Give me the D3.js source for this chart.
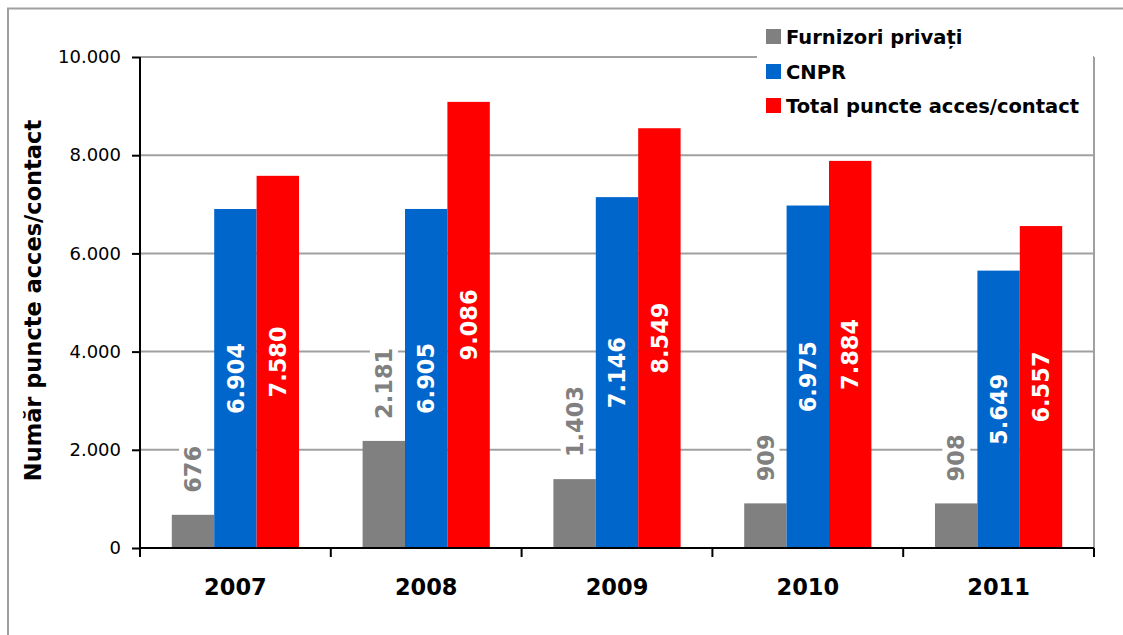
<!DOCTYPE html>
<html><head><meta charset="utf-8">
<script src="https://cdn.jsdelivr.net/npm/d3@7"></script>
<style>body{margin:0;background:#fff}svg{display:block}</style>
</head><body>
<script>
const years = ["2007","2008","2009","2010","2011"];
const seriesNames = ["Furnizori privați","CNPR","Total puncte acces/contact"];
const furnizori = [676,2181,1403,909,908];
const cnpr = [6904,6905,7146,6975,5649];
const total = [7580,9086,8549,7884,6557];
const yTicks = [0,2000,4000,6000,8000,10000];
const colors = ["#808080","#0066cc","#ff0000"];
const yTitle = "Număr puncte acces/contact";

const W=1123,H=635;
const svg=d3.select("body").append("svg").attr("width",W).attr("height",H);
const FONT="'DejaVu Sans', Verdana, sans-serif";
const fmt = v => d3.format(",")(v).replace(/,/g,".");

// outer border
svg.append("rect").attr("x",8).attr("y",8.5).attr("width",W).attr("height",H+10)
  .attr("fill","none").attr("stroke","#a0a0a0").attr("stroke-width",2);

const L=140,R=1094,T=57,B=548;
const x=d3.scaleBand().domain(years).range([L,R]);
const y=d3.scaleLinear().domain([0,10000]).range([B,T]);
const inner=d3.scaleBand().domain([0,1,2]).range([0,x.bandwidth()]).paddingInner(0).paddingOuter(0.75);

// gridlines
svg.append("g").selectAll("line").data(yTicks.filter(d=>d>0)).join("line")
  .attr("x1",L).attr("x2",R).attr("y1",d=>y(d)).attr("y2",d=>y(d))
  .attr("stroke","#a0a0a0").attr("stroke-width",2);
// right plot border
svg.append("line").attr("x1",R).attr("x2",R).attr("y1",T).attr("y2",B)
  .attr("stroke","#a0a0a0").attr("stroke-width",2);

const data=[furnizori,cnpr,total];
const g=svg.append("g");
data.forEach((arr,si)=>{
  g.selectAll(null).data(arr).join("rect")
    .attr("x",(d,i)=>x(years[i])+inner(si))
    .attr("y",d=>y(d)).attr("width",inner.bandwidth()).attr("height",d=>B-y(d))
    .attr("fill",colors[si]);
});

// labels
const lab=svg.append("g").attr("font-family",FONT).attr("font-weight","bold").attr("font-size",22.5);
furnizori.forEach((v,i)=>{
  const cx=x(years[i])+inner(0)+inner.bandwidth()/2;
  const y0=y(v)-22;
  const t=lab.append("text").attr("transform",`translate(${cx},${y0}) rotate(-90)`)
    .attr("dy","0.36em").attr("text-anchor","start").attr("fill","#808080").text(fmt(v));
  const bb=t.node().getBBox();
  lab.insert("rect","text").attr("transform",`translate(${cx},${y0}) rotate(-90)`)
    .attr("x",bb.x-5).attr("y",bb.y-1).attr("width",bb.width+10).attr("height",bb.height+2).attr("fill","#fff");
});
[cnpr,total].forEach((arr,k)=>{
  const si=k+1;
  arr.forEach((v,i)=>{
    const cx=x(years[i])+inner(si)+inner.bandwidth()/2;
    const cy=(y(v)+B)/2;
    lab.append("text").attr("transform",`translate(${cx},${cy}) rotate(-90)`)
      .attr("dy","0.36em").attr("text-anchor","middle").attr("fill","#fff").text(fmt(v));
  });
});

// y axis
const ya=svg.append("g").attr("transform",`translate(${L},0)`)
  .call(d3.axisLeft(y).tickValues(yTicks).tickFormat(fmt).tickSize(8).tickPadding(11));
ya.select(".domain").attr("stroke","#000").attr("stroke-width",2).attr("d",`M0,${T}V${B}`);
ya.selectAll(".tick line").attr("stroke","#000").attr("stroke-width",2);
ya.selectAll(".tick text").attr("font-family",FONT).attr("font-size",18).attr("fill","#000");

// x axis
const xa=svg.append("g").attr("transform",`translate(0,${B})`);
xa.append("line").attr("x1",L).attr("x2",R).attr("stroke","#000").attr("stroke-width",2);
xa.selectAll("line.t").data(years.map(yy=>x(yy)).concat([R])).join("line").attr("class","t")
  .attr("x1",d=>d).attr("x2",d=>d).attr("y1",0).attr("y2",9).attr("stroke","#000").attr("stroke-width",2);
xa.selectAll("text").data(years).join("text")
  .attr("x",d=>x(d)+x.bandwidth()/2).attr("y",47).attr("text-anchor","middle")
  .attr("font-family",FONT).attr("font-weight","bold").attr("font-size",22.5).attr("fill","#000").text(d=>d);

// y title
svg.append("text").attr("transform",`translate(41,${(118+483)/2}) rotate(-90)`)
  .attr("text-anchor","middle").attr("font-family",FONT).attr("font-weight","bold").attr("font-size",22.5)
  .attr("fill","#000").text(yTitle);

// legend
const lg=svg.append("g");
lg.append("rect").attr("x",757).attr("y",14).attr("width",336).attr("height",112).attr("fill","#fff");
const ly=[37,72,106];
seriesNames.forEach((n,i)=>{
  lg.append("rect").attr("x",766).attr("y",ly[i]-8).attr("width",15).attr("height",15).attr("fill",colors[i]);
  lg.append("text").attr("x",786).attr("y",ly[i]).attr("dy","0.36em").attr("font-family",FONT)
    .attr("font-weight","bold").attr("font-size",19.5).attr("fill","#000").text(n);
});
</script>
</body></html>
